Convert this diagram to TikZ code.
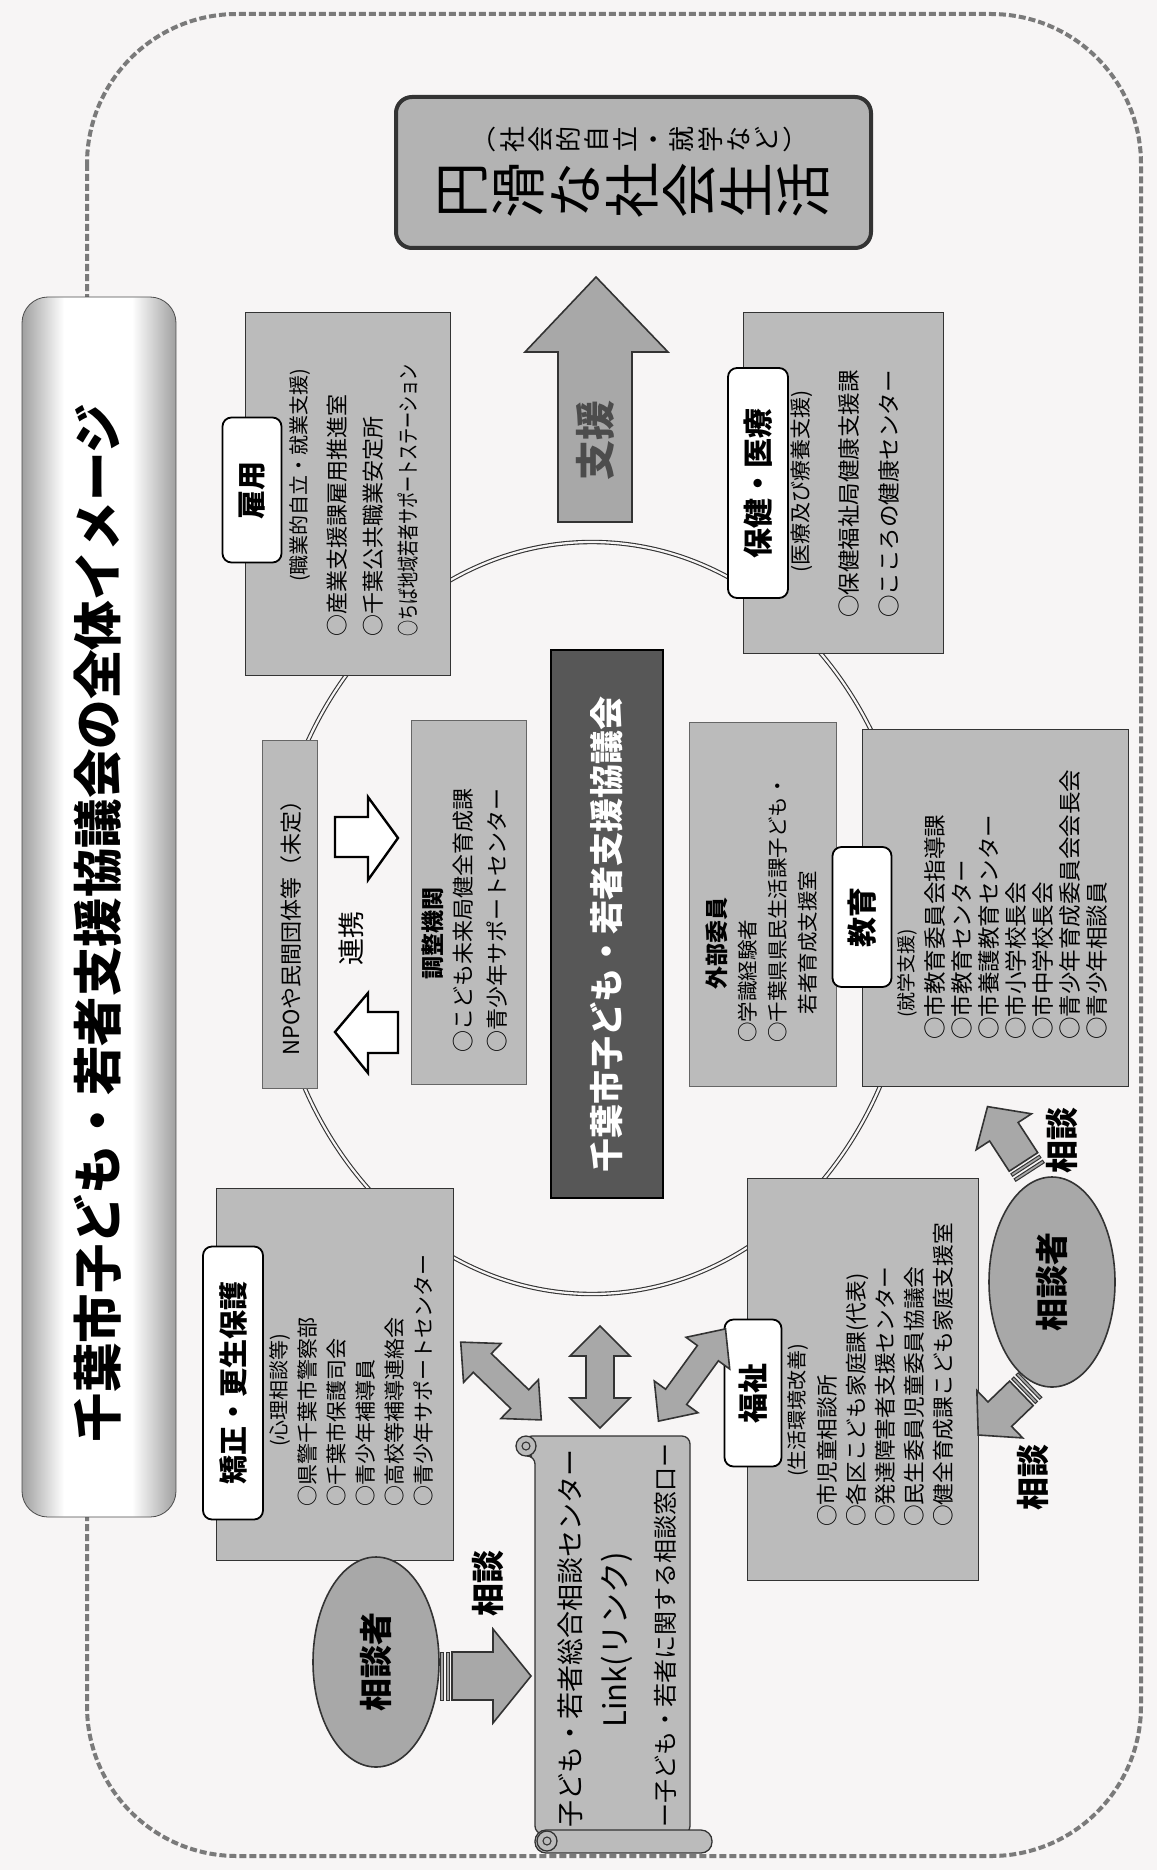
\documentclass[tikz,border=0pt]{standalone}
\usepackage{fontspec}
\setmainfont{Noto Sans CJK JP}
\usepackage{graphicx}
\usetikzlibrary{calc,shapes.geometric}
\definecolor{paper}{HTML}{F7F5F5}
\definecolor{boxgray}{HTML}{BBBBBB}
\definecolor{goalgray}{HTML}{B3B3B3}
\definecolor{arrowgray}{HTML}{A8A8A8}
\definecolor{edgec}{HTML}{333333}
\definecolor{midbox}{HTML}{575757}
\definecolor{dashcol}{HTML}{7A7A7A}
\tikzset{
  tx/.style 2 args={rotate=90, inner sep=0pt, align=left, anchor=north west,
     font=\fontsize{#1}{#2}\selectfont},
  one/.style={rotate=90, inner sep=0pt, anchor=west, font=\fontsize{#1}{#1}\selectfont},
  bold/.style={rotate=90, inner sep=0pt, font=\bfseries\fontsize{#1}{#1}\selectfont},
  lbl/.style={rotate=90, draw=black, line width=1.8pt, fill=white, rounded corners=9pt, inner sep=0pt},
  gbox/.style={fill=boxgray, draw=edgec, line width=1pt},
  lbox/.style={fill=boxgray, draw=gray!80!black, line width=0.6pt},
  blk/.style={fill=arrowgray, draw=edgec, line width=1.6pt, line join=miter},
  hollow/.style={fill=white, draw=black, line width=2.4pt, line join=miter},
  person/.style={ellipse, fill=arrowgray, draw=edgec, line width=1.6pt, minimum width=126pt, minimum height=210pt, inner sep=0pt},
  scroll/.style={fill=boxgray, draw=edgec, line width=1.3pt},
}
% double block arrow: center x, y, angle, half length, shaft half width, head half width
\newcommand{\dblarrow}[6]{%
  \begin{scope}[shift={(#1,#2)}, rotate=#3]
    \path[blk] (-#4,0) -- (-#4+30,#6) -- (-#4+30,#5) -- (#4-30,#5) -- (#4-30,#6) -- (#4,0)
      -- (#4-30,-#6) -- (#4-30,-#5) -- (-#4+30,-#5) -- (-#4+30,-#6) -- cycle;
  \end{scope}}
% striped block arrow: tail x, y, angle, length, shaft half width, head half width, head length
\newcommand{\tailarrow}[7]{%
  \begin{scope}[shift={(#1,#2)}, rotate=#3]
    \path[blk, line width=1pt] (0,-#5) rectangle (3,#5);
    \path[blk, line width=1pt] (6,-#5) rectangle (9,#5);
    \path[blk] (12,-#5) -- (#4-#7,-#5) -- (#4-#7,-#6) -- (#4,0) -- (#4-#7,#6) -- (#4-#7,#5) -- (12,#5) -- cycle;
  \end{scope}}
\begin{document}
\begin{tikzpicture}[x=1pt,y=-1pt]
\useasboundingbox (0,0) rectangle (1157,1870);
\fill[paper] (0,0) rectangle (1157,1870);
% outer dashed frame
\draw[dashcol, line width=4pt, dash pattern=on 7pt off 3pt, rounded corners=150pt] (87,14) rectangle (1141,1856);
% title bar
\begin{scope}
  \clip[rounded corners=26pt] (22,297) rectangle (176,1517);
  \shade[left color=gray!75, right color=white] (22,297) rectangle (64,1517);
  \fill[white] (64,297) rectangle (132,1517);
  \shade[left color=white, right color=gray!75] (132,297) rectangle (176,1517);
\end{scope}
\draw[gray!60!black, line width=0.8pt, rounded corners=26pt] (22,297) rectangle (176,1517);
\node[bold=49.5] (title) at (98,923) {千葉市子ども・若者支援協議会の全体イメージ};
% central ellipse
\draw[gray!40!black, line width=1.1pt, double=paper, double distance=2.2pt] (592,918) ellipse [x radius=322pt, y radius=376pt];
% goal box
\draw[fill=goalgray, draw=edgec, line width=4pt, rounded corners=16pt] (396,97) rectangle (871,248);
\node[rotate=90, inner sep=0pt, align=center, font=\fontsize{56}{57}\selectfont] (goal) at (634,191) {円\\滑\\な\\社\\会\\生\\活};
\node[rotate=90, inner sep=0pt, align=center, font=\fontsize{26}{28.3}\selectfont] (goalsub) at (647,140) {︵\\社\\会\\的\\自\\立\\・\\就\\学\\な\\ど\\︶};
% support arrow
\path[blk] (558,522) -- (558,352) -- (525,352) -- (596,277) -- (668,352) -- (632,352) -- (632,522) -- cycle;
\node[bold=40, text=black!70] (sup) at (595,440) {支援};
% employment box
\path[gbox] (245,312) rectangle (450,675);
\node[lbl, minimum width=145pt, minimum height=59pt, font=\bfseries\fontsize{29}{29}\selectfont] (koyo) at (252,490) {雇用};
\node[one=20] (koyop) at (300,582) {(職業的自立・就業支援)};
\node[tx={22}{35.5}] (koyol) at (327,637) {○産業支援課雇用推進室\\○千葉公共職業安定所\\\scalebox{0.73}[1]{○ちば地域若者サポートステーション}};
% health box
\path[gbox] (743,312) rectangle (943,653);
\node[lbl, minimum width=230pt, minimum height=60pt, font=\bfseries\fontsize{30}{30}\selectfont] (hoken) at (758,483) {保健・医療};
\node[one=21] (hokenp) at (802,573) {(医療及び療養支援)};
\node[tx={22.5}{40}] (hokenl) at (838,618) {○保健福祉局健康支援課\\○こころの健康センター};
% NPO box
\path[lbox] (262,740) rectangle (317,1088);
\node[one=22] (npo) at (291,1056) {NPOや民間団体等（未定）};
% cooperation arrows
\path[hollow] (335,817) -- (368,817) -- (368,797) -- (398,838) -- (368,880) -- (368,857) -- (335,857) -- cycle;
\path[hollow] (335,1032) -- (368,993) -- (368,1012) -- (398,1012) -- (398,1053) -- (368,1053) -- (368,1073) -- cycle;
\node[rotate=90, inner sep=0pt, font=\fontsize{27}{27}\selectfont] (renkei) at (351,938) {連携};
% coordinating body
\path[lbox] (411,720) rectangle (526,1084);
\node[bold=23, anchor=west] (chosei) at (433,980) {調整機関};
\node[tx={22}{34}] (chosel) at (453,1053) {○こども未来局健全育成課\\○青少年サポートセンター};
% council
\path[fill=midbox, draw=black, line width=1.5pt] (551,650) rectangle (663,1198);
\node[bold=34, text=white] (council) at (607,934) {千葉市子ども・若者支援協議会};
% external members
\path[lbox] (689,722) rectangle (836,1086);
\node[bold=23, anchor=west] (gaibu) at (717,990) {外部委員};
\node[tx={20.5}{30}] (gaibul) at (738,1043) {○学識経験者\\○千葉県県民生活課子ども・\\\hspace{1.4em}若者育成支援室};
% education box
\path[gbox] (862,729) rectangle (1128,1086);
\node[lbl, minimum width=140pt, minimum height=59pt, font=\bfseries\fontsize{30}{30}\selectfont] (kyoiku) at (862,917) {教育};
\node[one=19] (kyoikup) at (907,1018) {(就学支援)};
\node[tx={22.5}{27}] (kyoikul) at (924,1040) {○市教育委員会指導課\\○市教育センター\\○市養護教育センター\\○市小学校長会\\○市中学校長会\\○青少年育成委員会会長会\\○青少年相談員};
% correction box
\path[gbox] (216,1188) rectangle (453,1560);
\node[lbl, minimum width=273pt, minimum height=60pt, font=\bfseries\fontsize{29}{29}\selectfont] (kyosei) at (233,1383) {矯正・更生保護};
\node[one=20] (kyoseip) at (280,1447) {(心理相談等)};
\node[tx={21}{29}] (kyosell) at (297.5,1507) {○県警千葉市警察部\\○千葉市保護司会\\○青少年補導員\\○高校等補導連絡会\\○青少年サポートセンター};
% welfare box
\path[gbox] (747,1178) rectangle (978,1580);
\node[lbl, minimum width=147pt, minimum height=57pt, font=\bfseries\fontsize{30}{30}\selectfont] (fukushi) at (753,1393) {福祉};
\node[one=20] (fukuship) at (798,1477) {(生活環境改善)};
\node[tx={21.7}{29}] (fukushil) at (817,1527) {○市児童相談所\\○各区こども家庭課(代表)\\○発達障害者支援センター\\○民生委員児童委員協議会\\○健全育成課こども家庭支援室};
% Link scroll
\path[scroll, rounded corners=8pt] (524,1436) -- (690,1436) -- (690,1834) -- (535,1834) -- (535,1456) -- (524,1456) -- cycle;
\path[scroll] (526,1446) circle[radius=10pt];
\draw[edgec, line width=1.1pt] (526,1446) circle[radius=4pt];
\path[scroll, rounded corners=11pt] (535,1830) rectangle (712,1853);
\path[scroll] (547,1841) circle[radius=10pt];
\draw[edgec, line width=1.1pt] (547,1841) circle[radius=4pt];
\node[one=27] (link1) at (570,1828) {子ども・若者総合相談センター};
\node[rotate=90, inner sep=0pt, font=\fontsize{31}{31}\selectfont] (link2) at (617,1640) {Link(リンク)};
\node[one=24] (link3) at (665,1828) {ー子ども・若者に関する相談窓口ー};
% double arrows between Link and boxes
\dblarrow{501}{1381}{-44}{56}{13}{27}
\dblarrow{600}{1377}{90}{51}{14}{30}
\dblarrow{692}{1375}{54}{57}{13}{27}
% consulters
\node[person] (c1) at (376,1662) {};
\node[bold=33] (c1t) at (c1) {相談者};
\node[person] (c2) at (1052,1282) {};
\node[bold=33] (c2t) at (c2) {相談者};
\tailarrow{440}{1676}{0}{91}{24}{47}{38}
\node[bold=33] (s1) at (488,1583) {相談};
\tailarrow{1030}{1385}{-136}{72}{17}{33}{30}
\node[bold=33] (s2) at (1033,1477) {相談};
\tailarrow{1030}{1172}{123}{78}{17}{33}{30}
\node[bold=33] (s3) at (1062,1140) {相談};
\end{tikzpicture}
\end{document}
